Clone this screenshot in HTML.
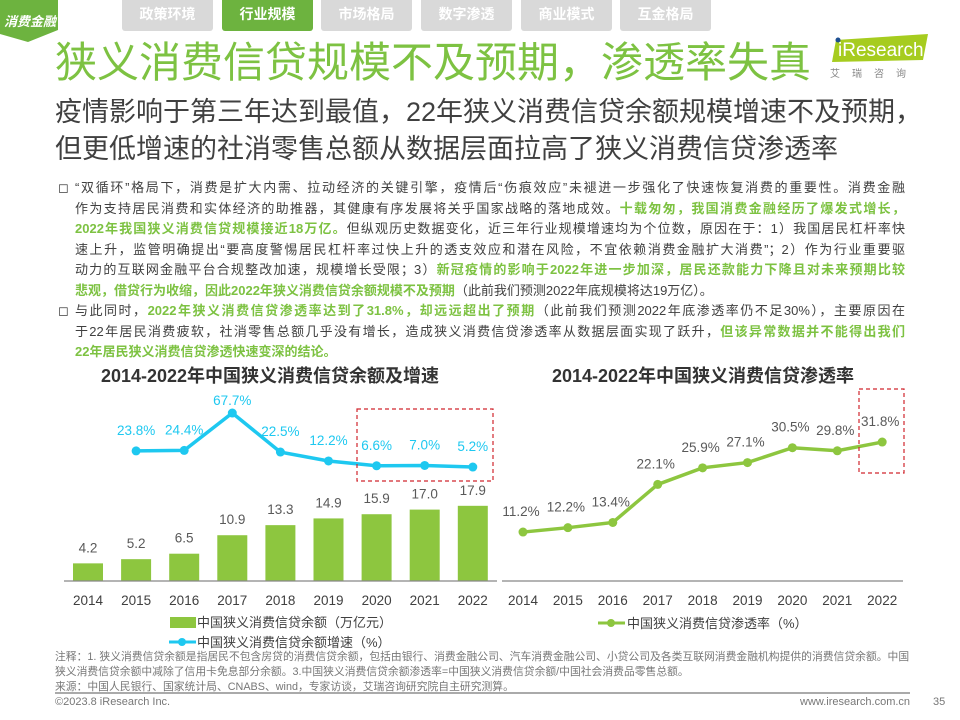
<!DOCTYPE html>
<html lang="zh"><head><meta charset="utf-8">
<style>
body{margin:0;width:960px;height:720px;overflow:hidden;background:#fff;font-family:"Liberation Sans","Noto Sans CJK SC",sans-serif;position:relative}
.abs{position:absolute}
.tab{position:absolute;top:0;height:31px;width:91px;background:#d9d9d9;color:#fff;font-size:14px;font-weight:bold;text-align:center;line-height:28px;border-radius:0 0 3px 3px}
.tab.on{background:#6db33f}
.body{position:absolute;left:58px;width:850px;font-size:13px;color:#404040;line-height:20.5px}
.ln{margin-left:17px;white-space:nowrap;text-align:justify;text-align-last:justify;width:830px;height:20.5px;overflow:visible}
.ln.last{text-align-last:left}
.bl{position:absolute;left:0}
.g{color:#7dc242;font-weight:bold}
.note{position:absolute;left:55px;width:860px;font-size:10.8px;color:#777;line-height:15px}
</style></head><body>
<div class="abs" style="left:0;top:0;width:58px;height:42px">
<svg width="62" height="44"><polygon points="0,0 58,0 58,30 28,42 0,34" fill="#6db33f"/></svg>
<span class="abs" style="left:4px;top:11px;color:#fff;font-size:13px;font-weight:bold;font-style:italic;white-space:nowrap">消费金融</span></div>
<div class="tab" style="left:122px">政策环境</div>
<div class="tab on" style="left:222px">行业规模</div>
<div class="tab" style="left:321px">市场格局</div>
<div class="tab" style="left:421px">数字渗透</div>
<div class="tab" style="left:521px">商业模式</div>
<div class="tab" style="left:620px">互金格局</div>

<div class="abs" style="left:55px;top:38px;font-size:42px;color:#7dc242;white-space:nowrap;line-height:50px">狭义消费信贷规模不及预期，渗透率失真</div>
<div class="abs" style="left:830px;top:32px;width:105px;height:48px">
<svg width="105" height="48"><polygon points="6,8 98,2 93,28 2,30" fill="#a6cc1f"/><circle cx="8" cy="8" r="2.5" fill="#1d4f91"/>
<text x="8" y="24" font-size="19" fill="#fff" font-family="Liberation Sans">iResearch</text>
<text x="0" y="45" font-size="10" fill="#888" letter-spacing="12">艾瑞咨询</text></svg></div>
<div class="abs" style="left:55px;top:94px;font-size:27px;color:#404040;line-height:37px;white-space:nowrap">疫情影响于第三年达到最值，22年狭义消费信贷余额规模增速不及预期，<br>但更低增速的社消零售总额从数据层面拉高了狭义消费信贷渗透率</div>

<div class="body" style="top:178px">
<span class="bl" style="top:0">◻</span>
<div class="ln">“双循环”格局下，消费是扩大内需、拉动经济的关键引擎，疫情后“伤痕效应”未褪进一步强化了快速恢复消费的重要性。消费金融</div>
<div class="ln">作为支持居民消费和实体经济的助推器，其健康有序发展将关乎国家战略的落地成效。<span class="g">十载匆匆，我国消费金融经历了爆发式增长，</span></div>
<div class="ln"><span class="g">2022年我国狭义消费信贷规模接近18万亿。</span>但纵观历史数据变化，近三年行业规模增速均为个位数，原因在于：1）我国居民杠杆率快</div>
<div class="ln">速上升，监管明确提出“要高度警惕居民杠杆率过快上升的透支效应和潜在风险，不宜依赖消费金融扩大消费”；2）作为行业重要驱</div>
<div class="ln">动力的互联网金融平台合规整改加速，规模增长受限；3）<span class="g">新冠疫情的影响于2022年进一步加深，居民还款能力下降且对未来预期比较</span></div>
<div class="ln last"><span class="g">悲观，借贷行为收缩，因此2022年狭义消费信贷余额规模不及预期</span>（此前我们预测2022年底规模将达19万亿）。</div>
<span class="bl" style="top:123px">◻</span>
<div class="ln">与此同时，<span class="g">2022年狭义消费信贷渗透率达到了31.8%，却远远超出了预期</span>（此前我们预测2022年底渗透率仍不足30%），主要原因在</div>
<div class="ln">于22年居民消费疲软，社消零售总额几乎没有增长，造成狭义消费信贷渗透率从数据层面实现了跃升，<span class="g">但该异常数据并不能得出我们</span></div>
<div class="ln last"><span class="g">22年居民狭义消费信贷渗透快速变深的结论。</span></div>
</div>

<svg id="chart" class="abs" style="left:0;top:0" width="960" height="720"></svg>

<div class="note" style="top:650px">注释：1. 狭义消费信贷余额是指居民不包含房贷的消费信贷余额，包括由银行、消费金融公司、汽车消费金融公司、小贷公司及各类互联网消费金融机构提供的消费信贷余额。中国<br>狭义消费信贷余额中减除了信用卡免息部分余额。3.中国狭义消费信贷余额渗透率=中国狭义消费信贷余额/中国社会消费品零售总额。<br>来源：中国人民银行、国家统计局、CNABS、wind，专家访谈，艾瑞咨询研究院自主研究测算。</div>
<div class="abs" style="left:55px;top:692px;width:855px;height:2px;background:#aaa"></div>
<div class="abs" style="left:55px;top:696px;font-size:11px;color:#777">©2023.8 iResearch Inc.</div>
<div class="abs" style="left:800px;top:696px;font-size:11px;color:#777">www.iresearch.com.cn</div>
<div class="abs" style="left:933px;top:696px;font-size:11px;color:#777">35</div>

<script>
const years = ["2014","2015","2016","2017","2018","2019","2020","2021","2022"];
const balance = [4.2,5.2,6.5,10.9,13.3,14.9,15.9,17.0,17.9];
const growthYears = ["2015","2016","2017","2018","2019","2020","2021","2022"];
const growth = [23.8,24.4,67.7,22.5,12.2,6.6,7.0,5.2];
const penetration = [11.2,12.2,13.4,22.1,25.9,27.1,30.5,29.8,31.8];

const svg=document.getElementById('chart');
const NS='http://www.w3.org/2000/svg';
function mk(tag,attrs,parent){const e=document.createElementNS(NS,tag);for(const k in attrs)e.setAttribute(k,attrs[k]);(parent||svg).appendChild(e);return e;}
function txt(x,y,s,attrs){const e=mk('text',Object.assign({x:x,y:y,'text-anchor':'middle','font-family':'Liberation Sans, Noto Sans CJK SC, sans-serif'},attrs));e.textContent=s;return e;}

const lx=i=>88+i*48.1;
const barY=v=>581-v*4.2;
const gY=v=>471.5-v*0.864;
const rx=i=>523+i*44.9;
const pY=v=>581-v*4.37;

let t=txt(270,382,'2014-2022年中国狭义消费信贷余额及增速',{'font-size':18,'font-weight':'bold',fill:'#333'});


t=txt(703,382,'2014-2022年中国狭义消费信贷渗透率',{'font-size':18,'font-weight':'bold',fill:'#333'});



balance.forEach((v,i)=>{
  const r=mk('rect',{x:lx(i)-15,y:barY(v),width:30,height:581-barY(v),fill:'#8dc63f'});
  
  
  const l=txt(lx(i),barY(v)-11,v.toFixed(1),{'font-size':13.5,fill:'#595959'});
  
  
});
let ax=mk('line',{x1:64,y1:581,x2:497,y2:581,stroke:'#888','stroke-width':1.2});


years.forEach((y,i)=>{
  const l=txt(lx(i),605,y,{'font-size':13.5,fill:'#404040'});
  
  
});
const gIdx=growthYears.map(y=>years.indexOf(y));
const gMax=Math.max(...growth);
let gl=mk('polyline',{points:growth.map((v,k)=>lx(gIdx[k])+','+gY(v)).join(' '),fill:'none',stroke:'#1ec8f0','stroke-width':3.5});


growth.forEach((v,k)=>{
  const c=mk('circle',{cx:lx(gIdx[k]),cy:gY(v),r:4.5,fill:'#1ec8f0'});
  
  
  const off = v===gMax ? 8 : 16;
  const l=txt(lx(gIdx[k]),gY(v)-off,v.toFixed(1)+'%',{'font-size':13.5,fill:'#1ec8f0'});
  
  
});
let b1=mk('rect',{x:357,y:409,width:136,height:72,fill:'none',stroke:'#d0262d','stroke-dasharray':'4,3','stroke-width':1.2});



ax=mk('line',{x1:502,y1:581,x2:903,y2:581,stroke:'#888','stroke-width':1.2});


years.forEach((y,i)=>{
  const l=txt(rx(i),605,y,{'font-size':13.5,fill:'#404040'});
  
  
});
let pl=mk('polyline',{points:penetration.map((v,i)=>rx(i)+','+pY(v)).join(' '),fill:'none',stroke:'#8dc63f','stroke-width':3.5});


penetration.forEach((v,i)=>{
  const c=mk('circle',{cx:rx(i),cy:pY(v),r:4.5,fill:'#8dc63f'});
  
  
  const l=txt(rx(i)-2,pY(v)-16,v.toFixed(1)+'%',{'font-size':13.5,fill:'#595959'});
  
  
});
let b2=mk('rect',{x:859,y:389,width:45,height:84,fill:'none',stroke:'#d0262d','stroke-dasharray':'4,3','stroke-width':1.2});



let lg=mk('rect',{x:170,y:617,width:26,height:11,fill:'#8dc63f'});


t=txt(197,627,'中国狭义消费信贷余额（万亿元）',{'text-anchor':'start','font-size':13,fill:'#404040'});


lg=mk('line',{x1:169,y1:642,x2:196,y2:642,stroke:'#1ec8f0','stroke-width':3});


lg=mk('circle',{cx:182,cy:642,r:4,fill:'#1ec8f0'});


t=txt(197,647,'中国狭义消费信贷余额增速（%）',{'text-anchor':'start','font-size':13,fill:'#404040'});


lg=mk('line',{x1:598,y1:623,x2:625,y2:623,stroke:'#8dc63f','stroke-width':3});


lg=mk('circle',{cx:611,cy:623,r:4,fill:'#8dc63f'});


t=txt(627,628,'中国狭义消费信贷渗透率（%）',{'text-anchor':'start','font-size':13,fill:'#404040'});


</script>
</body></html>
